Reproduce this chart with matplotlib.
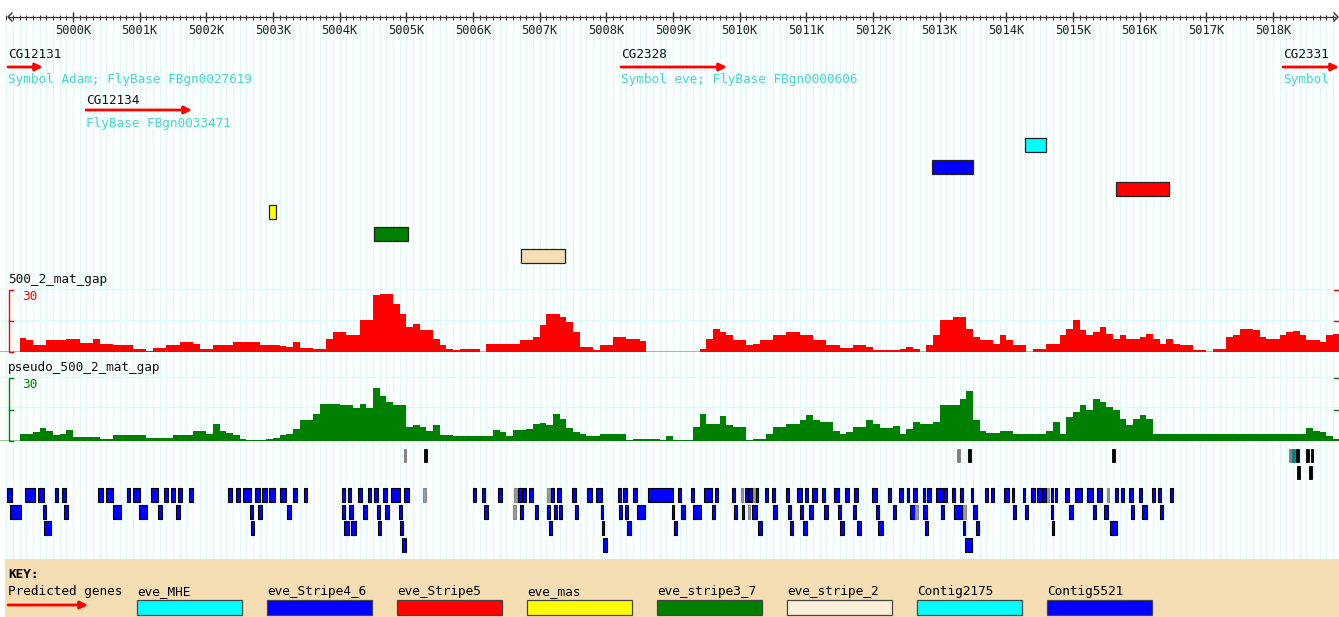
import matplotlib
matplotlib.use("Agg")
import matplotlib.pyplot as plt
from matplotlib.patches import Rectangle
import numpy as np

# ---- data -------------------------------------------------------------
view_start, view_end = 4998905, 5018990

gene_names = ["CG12131", "CG12134", "CG2328", "CG2331"]
gene_starts = [4999025, 5000195, 5008220, 5018150]
gene_ends = [4999550, 5001785, 5009810, 5019900]
gene_notes = ["Symbol Adam; FlyBase FBgn0027619", "FlyBase FBgn0033471",
              "Symbol eve; FlyBase FBgn0000606", "Symbol"]

element_names = ["eve_MHE", "eve_Stripe4_6", "eve_Stripe5", "eve_mas",
                 "eve_stripe3_7", "eve_stripe_2"]
element_starts = [5014280, 5012885, 5015645, 5002940, 5004515, 5006720]
element_ends = [5014595, 5013500, 5016440, 5003045, 5005025, 5007380]

key_labels = ["eve_MHE", "eve_Stripe4_6", "eve_Stripe5", "eve_mas",
              "eve_stripe3_7", "eve_stripe_2", "Contig2175", "Contig5521"]

bin_start, bin_size = 4999200, 100
mat_gap = [7, 5.6, 3.2, 3.5, 6, 6, 6, 6.5, 6.5, 4.4,
           4.4, 6.5, 4, 4, 3.2, 3.2, 3.2, 1.6, 1.6, 0.5,
           2, 2, 3.2, 3.2, 5, 5, 3.7, 1.6, 1.6, 3.2,
           3.2, 3.5, 4.8, 4.8, 4.8, 5, 3.2, 3.2, 3.2, 3,
           2.4, 5, 2, 2, 1.6, 1.6, 6.5, 9.7, 9.7, 8,
           8, 15.3, 15.5, 27.4, 28.2, 28.2, 23.4, 18.5, 12, 13.7,
           10.5, 10.5, 6.5, 3.2, 1.6, 1.0, 1.3, 1.3, 1.3, 0,
           3.7, 3.7, 3.7, 3.7, 3.7, 5.6, 5.6, 7.3, 13, 18.2,
           18.2, 17, 14.5, 9.7, 2.4, 2.4, 1.1, 3.2, 3.2, 7.3,
           7.3, 6.5, 6.5, 5.3, 0, 0, 0, 0, 0, 0,
           0, 0, 1.6, 6.5, 11.3, 9.7, 8, 5.6, 5.6, 3.2,
           4, 5.6, 5.6, 8, 8, 9.7, 9.7, 8, 8, 5.6,
           5.6, 3.2, 3.2, 2, 2, 3.2, 3.2, 2.4, 1.1, 1.1,
           0.8, 0.8, 1.5, 2.4, 1.6, 0, 3.2, 8, 15.3, 15.3,
           17, 17, 11.3, 7.3, 5.6, 5.6, 4, 8, 5.6, 3.2,
           3.2, 0, 1.3, 1.3, 4, 4, 8, 11.3, 15.6, 10.5,
           8, 9.7, 12, 8.9, 6.5, 8, 6.5, 6.5, 7.3, 8.9,
           6.5, 3.7, 6.5, 3.7, 3.2, 3.2, 1.1, 1.1, 0, 1.6,
           1.6, 7.3, 8, 11.3, 11.3, 10.5, 7.3, 6.5, 6.5, 8,
           9.7, 10, 8, 5.6, 5.6, 4.8, 8, 8.9]
pseudo_gap = [3.2, 3.2, 4.3, 6.3, 5, 2.7, 3.5, 5.4, 1.9, 1.9,
              1.9, 1.9, 1.1, 1.1, 2.7, 2.7, 2.7, 2.7, 2.7, 1.3,
              1.4, 1.4, 1.6, 2.7, 2.7, 2.7, 4.8, 4.8, 3.5, 7.9,
              5, 4, 2.7, 1.1, 0.3, 0.3, 0.5, 1.1, 1.5, 3,
              3.5, 5.9, 9.8, 10, 13, 17.8, 17.8, 17.8, 17, 17,
              15.9, 17.8, 15.9, 25.4, 21.3, 18.6, 17, 17, 6.7, 7.5,
              6.7, 5, 7.5, 2.7, 2.7, 2.4, 2.4, 2.4, 2.4, 2.4,
              2.4, 5.4, 4.3, 2.4, 5.4, 5.4, 5.9, 7.9, 8.6, 7.5,
              13, 10.6, 6.3, 4.3, 3.2, 2.4, 2.4, 3.2, 3.2, 3.2,
              3.2, 0.3, 1.1, 1.1, 1.1, 1.1, 0.3, 2.4, 0.3, 0.3,
              0.3, 6.7, 12.7, 8.3, 8.3, 11.7, 7.5, 6.7, 6.7, 0.3,
              1.1, 1.1, 3.5, 6.7, 6.7, 8.3, 8.3, 9.8, 12.2, 9.8,
              9, 9, 5, 3.5, 4.3, 6.7, 6.7, 9.8, 8.3, 6.3,
              6.3, 7, 3.5, 5.9, 9, 8.3, 8.3, 9, 17, 17,
              17, 20, 24, 10, 5, 4, 4, 4.6, 4.6, 3.2,
              3.2, 3.2, 3.2, 3.2, 5, 9, 3.5, 11.4, 13.8, 17,
              14.6, 20.2, 18.6, 16.2, 14.6, 10.6, 7.5, 10.6, 12.2, 10.6,
              3.2, 3.2, 3.2, 3.2, 3.2, 3.2, 3.2, 3.2, 3.2, 3.2,
              3.2, 3.2, 3.2, 3.2, 3.2, 3.2, 3.2, 3.2, 3.2, 3.2,
              3.2, 3.2, 3.2, 6.3, 4.8, 4.3, 2.4, 1.1]

# sites above the contig blocks
sites_row_a = [(5004965, 5004995, "gray"), (5005265, 5005310, "k"),
               (5013260, 5013305, "gray"), (5013425, 5013470, "k"),
               (5015585, 5015630, "k"), (5018240, 5018285, "gray"),
               (5018285, 5018330, "teal"), (5018345, 5018390, "k"),
               (5018495, 5018540, "k"), (5018570, 5018600, "k")]
sites_row_b = [(5018360, 5018405, "k"), (5018540, 5018585, "k")]

blocks_row1 = [(4999010, 4999085), (4999280, 4999430), (4999475, 4999565), (4999730, 4999775),
               (4999835, 4999895), (5000375, 5000450), (5000495, 5000600), (5000810, 5000855),
               (5000900, 5001005), (5001170, 5001275), (5001365, 5001425), (5001470, 5001530),
               (5001575, 5001635), (5001740, 5001800), (5002325, 5002385), (5002445, 5002505),
               (5002550, 5002670), (5002730, 5002805), (5002835, 5002910), (5002940, 5003030),
               (5003105, 5003195), (5003300, 5003360), (5003465, 5003510), (5004035, 5004080),
               (5004125, 5004170), (5004275, 5004335), (5004425, 5004470), (5004515, 5004575),
               (5004650, 5004710), (5004770, 5004905), (5004965, 5005040), (5006000, 5006045),
               (5006135, 5006180), (5006375, 5006435), (5006675, 5006735), (5006750, 5006795),
               (5006840, 5006900), (5007170, 5007215), (5007260, 5007320), (5007485, 5007545),
               (5007710, 5007785), (5007845, 5007935), (5008175, 5008220), (5008250, 5008310),
               (5008400, 5008460), (5008625, 5009000), (5009075, 5009120), (5009270, 5009315),
               (5009465, 5009585), (5009630, 5009675), (5009885, 5009930), (5010080, 5010125),
               (5010140, 5010185), (5010245, 5010275), (5010380, 5010425), (5010485, 5010530),
               (5010695, 5010740), (5010860, 5010935), (5010980, 5011025), (5011085, 5011160),
               (5011235, 5011280), (5011415, 5011490), (5011580, 5011640), (5011715, 5011775),
               (5011985, 5012060), (5012225, 5012270), (5012390, 5012450), (5012510, 5012540),
               (5012600, 5012660), (5012750, 5012780), (5012810, 5012870), (5012945, 5013050),
               (5013065, 5013110), (5013185, 5013230), (5013305, 5013350), (5013470, 5013500),
               (5013680, 5013725), (5013770, 5013815), (5013965, 5014040), (5014085, 5014115),
               (5014250, 5014280), (5014370, 5014430), (5014460, 5014535), (5014550, 5014595),
               (5014670, 5014700), (5014730, 5014760), (5014880, 5014940), (5015030, 5015135),
               (5015210, 5015300), (5015360, 5015435), (5015630, 5015675), (5015720, 5015765),
               (5015840, 5015900), (5015990, 5016035), (5016185, 5016230), (5016275, 5016320),
               (5016455, 5016500)]
gray_row1 = [(5005250, 5005295), (5006615, 5006660), (5007110, 5007155), (5010020, 5010050),
             (5010200, 5010230), (5014610, 5014640), (5015510, 5015540)]
blocks_row2 = [(4999055, 4999220), (4999550, 4999595), (4999865, 4999925), (5000600, 5000720),
               (5000990, 5001110), (5001275, 5001335), (5001545, 5001605), (5002655, 5002700),
               (5002775, 5002835), (5003210, 5003270), (5004035, 5004080), (5004140, 5004200),
               (5004350, 5004410), (5004560, 5004605), (5004680, 5004740), (5004890, 5004935),
               (5006165, 5006225), (5006705, 5006750), (5006930, 5006975), (5007110, 5007155),
               (5007215, 5007260), (5007290, 5007335), (5007530, 5007575), (5007920, 5007950),
               (5008190, 5008235), (5008280, 5008325), (5008460, 5008580), (5008985, 5009015),
               (5009120, 5009180), (5009300, 5009420), (5009585, 5009630), (5009915, 5009960),
               (5010035, 5010065), (5010185, 5010260), (5010500, 5010560), (5010725, 5010770),
               (5010905, 5010950), (5011040, 5011100), (5011265, 5011325), (5011475, 5011520),
               (5011700, 5011745), (5012045, 5012090), (5012300, 5012345), (5012555, 5012630),
               (5012750, 5012810), (5013020, 5013065), (5013215, 5013335), (5013500, 5013560),
               (5014100, 5014145), (5014280, 5014325), (5014670, 5014700), (5014940, 5015000),
               (5015300, 5015345), (5015465, 5015525), (5015870, 5015915), (5016035, 5016110),
               (5016305, 5016350)]
gray_row2 = [(5006600, 5006645), (5010125, 5010155), (5012630, 5012675), (5013350, 5013395)]
blocks_row3 = [(4999565, 4999670), (5002670, 5002715), (5004065, 5004140), (5004170, 5004245),
               (5004575, 5004620), (5004905, 5004950), (5007140, 5007185), (5007935, 5007965),
               (5008310, 5008370), (5009015, 5009060), (5010275, 5010335), (5010755, 5010800),
               (5010950, 5011010), (5011505, 5011565), (5011760, 5011820), (5012075, 5012150),
               (5012780, 5012825), (5013350, 5013380), (5013545, 5013590), (5014685, 5014715),
               (5015555, 5015660)]
blocks_row4 = [(5004935, 5004995), (5007950, 5008010), (5013380, 5013485)]

# ---- styling ------------------------------------------------------------
W, H = 1339, 617
MONO = "DejaVu Sans Mono"
FS = 9.2
GRID = "#dcfafa"
TEAL_TXT = "#45d6cc"
BLUE = "#0000ff"
el_colors = {"eve_MHE": "#00ffff", "eve_Stripe4_6": BLUE, "eve_Stripe5": "#ff0000",
             "eve_mas": "#ffff00", "eve_stripe3_7": "#007f00", "eve_stripe_2": "#f5deb3",
             "Contig2175": "#00ffff", "Contig5521": BLUE}
el_rows = {"eve_MHE": 138, "eve_Stripe4_6": 160, "eve_Stripe5": 182, "eve_mas": 205,
           "eve_stripe3_7": 227, "eve_stripe_2": 249}


def px(p):
    return view_start + p * (view_end - view_start) / W


fig = plt.figure(figsize=(W / 100, H / 100), dpi=100)
ax = fig.add_axes([0, 0, 1, 1])
ax.set_xlim(view_start, view_end)
ax.set_ylim(H, 0)
ax.axis("off")

# background grid
grid_x = np.arange(4999000, 5019000, 100)
ax.vlines(grid_x, 24, 559, color=GRID, lw=1, zorder=0)
for y in (289, 320, 377, 407):
    ax.hlines(y, view_start, view_end, color=GRID, lw=1, zorder=0)

# ruler
ax.plot([px(9), px(1335)], [17, 17], color="#333333", lw=0.9)
ax.vlines(grid_x, 14.5, 19.5, color="#333333", lw=0.8)
majors = np.arange(5000000, 5019000, 1000)
ax.vlines(majors, 12, 22, color="#333333", lw=1)
ax.plot([px(12), px(8), px(12)], [13, 17, 21], color="#333333", lw=1)
ax.plot([px(1334), px(1338), px(1334)], [13, 17, 21], color="#333333", lw=1)
for m in majors:
    ax.text(m, 31, "%dK" % (m // 1000), fontsize=FS - 0.5, family=MONO, ha="center",
            va="center", color="#222222")

# predicted genes
gene_rows = [(55, 67, 79), (100, 110, 123), (55, 67, 79), (55, 67, 79)]
for name, s, e, note, (ly, ay, ny) in zip(gene_names, gene_starts, gene_ends,
                                           gene_notes, gene_rows):
    ax.text(s, ly, name, fontsize=FS, family=MONO, va="center", color="#111111")
    ax.annotate("", xy=(min(e, view_end), ay), xytext=(s, ay),
                arrowprops=dict(arrowstyle="-|>,head_length=0.45,head_width=0.22",
                                color="#ff0000", lw=2, shrinkA=0, shrinkB=0))
    ax.text(s, ny, note, fontsize=FS, family=MONO, va="center", color=TEAL_TXT)

# eve regulatory elements
for name, s, e in zip(element_names, element_starts, element_ends):
    ax.add_patch(Rectangle((s, el_rows[name]), e - s, 14, facecolor=el_colors[name],
                           edgecolor="#222222", lw=0.9))

# xy-plot tracks
edges = bin_start + bin_size * np.arange(len(mat_gap) + 1)
tracks = [("500_2_mat_gap", mat_gap, "#ff0000", 290, 352),
          ("pseudo_500_2_mat_gap", pseudo_gap, "#008000", 378, 441)]
for label, vals, col, top, bot in tracks:
    ax.text(px(8), top - 10, label, fontsize=FS, family=MONO, va="center", color="#111111")
    ax.plot([px(12.5), px(9), px(9), px(12.5)], [top, top, bot, bot], color=col, lw=1)
    ax.plot([px(9), px(12.5)], [(top + bot) / 2, (top + bot) / 2], color=col, lw=1)
    ax.text(px(22), top + 7, "30", fontsize=FS, family=MONO, va="center", color=col)
    for y in (top, (top + bot) / 2):
        ax.plot([px(1334), px(1339)], [y, y], color=col, lw=1)
    tax = fig.add_axes([0, 1 - bot / H, 1, (bot - top) / H])
    tax.set_xlim(view_start, view_end)
    tax.set_ylim(0, 30)
    tax.axis("off")
    tax.stairs(vals, edges, fill=True, color=col, lw=0)
    tax.axhline(0, color=col, lw=1.2, alpha=0.5)

# sites and contig blocks
for row, y in ((sites_row_a, 449), (sites_row_b, 466)):
    for s, e, c in row:
        ax.add_patch(Rectangle((s, y), e - s, 13, facecolor=c, edgecolor=c, lw=0.6))
rows = [(blocks_row1, gray_row1, 488), (blocks_row2, gray_row2, 505),
        (blocks_row3, [], 521), (blocks_row4, [], 538)]
for blocks, grays, y in rows:
    ax.broken_barh([(s, e - s) for s, e in blocks], (y, 14), facecolors=BLUE,
                   edgecolors="black", linewidth=0.8)
    if grays:
        ax.broken_barh([(s, e - s) for s, e in grays], (y, 14), facecolors="#9a9a9a",
                       edgecolors="#8a8a8a", linewidth=0.8)

# key
ax.add_patch(Rectangle((px(5), 559), px(W) - px(5), 58, facecolor="#f5deb3",
                       edgecolor="none"))
ax.text(px(8), 575, "KEY:", fontsize=FS, family=MONO, weight="bold", va="center")
ax.text(px(8), 592, "Predicted genes", fontsize=FS, family=MONO, va="center")
ax.annotate("", xy=(px(88), 605), xytext=(px(8), 605),
            arrowprops=dict(arrowstyle="-|>,head_length=0.45,head_width=0.22",
                            color="#ff0000", lw=2, shrinkA=0, shrinkB=0))
for i, lab in enumerate(key_labels):
    x0 = 137 + 130 * i
    ax.text(px(x0), 592, lab, fontsize=FS, family=MONO, va="center")
    fc = "#fbeedb" if lab == "eve_stripe_2" else el_colors[lab]
    ax.add_patch(Rectangle((px(x0), 600), px(x0 + 105) - px(x0), 15,
                           facecolor=fc, edgecolor="#444444", lw=0.9))

fig.savefig("out.png", dpi=100)
